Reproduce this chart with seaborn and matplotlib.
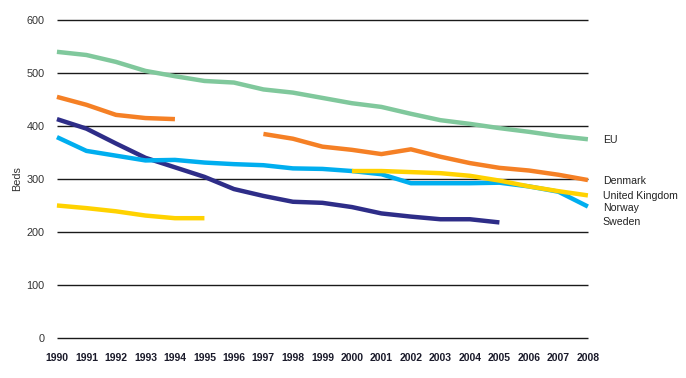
import numpy as np
import pandas as pd
import matplotlib
matplotlib.use("Agg")
import matplotlib.pyplot as plt
import seaborn as sns

years = list(range(1990, 2009))
nan = np.nan
eu = [540, 534, 521, 504, 494, 485, 482, 469, 463, 453, 443, 436, 423, 411, 404, 396, 389, 381, 375]
denmark = [455, 440, 421, 415, 413, nan, nan, 385, 376, 361, 355, 347, 356, 342, 330, 321, 316, 308, 298]
sweden = [413, 395, 367, 340, 322, 304, 281, 268, 257, 255, 247, 235, 229, 224, 224, 218, nan, nan, nan]
norway = [379, 353, 344, 335, 336, 331, 328, 326, 320, 319, 315, 309, 292, 292, 292, 293, 286, 276, 248]
uk = [250, 245, 239, 231, 226, 226, nan, nan, nan, nan, 315, 315, 313, 311, 306, 297, 286, 277, 269]

series = {"EU": eu, "Denmark": denmark, "Sweden": sweden, "Norway": norway, "United Kingdom": uk}
colors = {"EU": "#80c89c", "Denmark": "#f58025", "Sweden": "#2e2d88",
          "Norway": "#00aeef", "United Kingdom": "#ffd200"}
label_y = {"EU": 373, "Denmark": 297, "United Kingdom": 268, "Norway": 245, "Sweden": 219}
label_order = ["EU", "Denmark", "United Kingdom", "Norway", "Sweden"]

rows = []
for name, vals in series.items():
    seg = 0
    prev_nan = False
    for y, v in zip(years, vals):
        if np.isnan(v):
            prev_nan = True
            continue
        if prev_nan:
            seg += 1
            prev_nan = False
        rows.append({"year": y, "beds": v, "country": name, "seg": f"{name}-{seg}"})
df = pd.DataFrame(rows)

sns.set_theme(style="white")
plt.rcParams["font.family"] = ["Liberation Sans Narrow", "Liberation Sans", "DejaVu Sans"]

fig = plt.figure(figsize=(6.86, 3.78), dpi=100)
ax = fig.add_axes([0.083, 0.106, 0.774, 0.841])

for v in [0, 100, 200, 300, 400, 500, 600]:
    ax.axhline(v, color="#1a1a1a", lw=1.0, zorder=1)

sns.lineplot(data=df, x="year", y="beds", hue="country", units="seg", estimator=None,
             palette=colors, hue_order=list(series.keys()), lw=3.2, ax=ax, legend=False,
             zorder=3)
for line in ax.get_lines():
    line.set_clip_on(False)
    line.set_solid_capstyle("butt")

ax.set_xlim(1990, 2008)
ax.set_ylim(0, 600)
ax.set_xticks(years)
ax.set_xticklabels([str(y) for y in years], fontsize=7.5, fontweight="bold", color="#1a1a2a")
ax.set_yticks([0, 100, 200, 300, 400, 500, 600])
ax.set_yticklabels(["0", "100", "200", "300", "400", "500", "600"], fontsize=7.8, color="#333333")
ax.tick_params(axis="x", length=0, pad=11)
ax.tick_params(axis="y", length=0, pad=9)
ax.set_xlabel("")
ax.set_ylabel("Beds", fontsize=7.8, color="#333333", labelpad=3)
for s in ax.spines.values():
    s.set_visible(False)

for name in label_order:
    ax.text(2008.5, label_y[name], name, fontsize=7.6, color="#222222",
            va="center", ha="left", clip_on=False)

fig.savefig("out.png", dpi=100)
